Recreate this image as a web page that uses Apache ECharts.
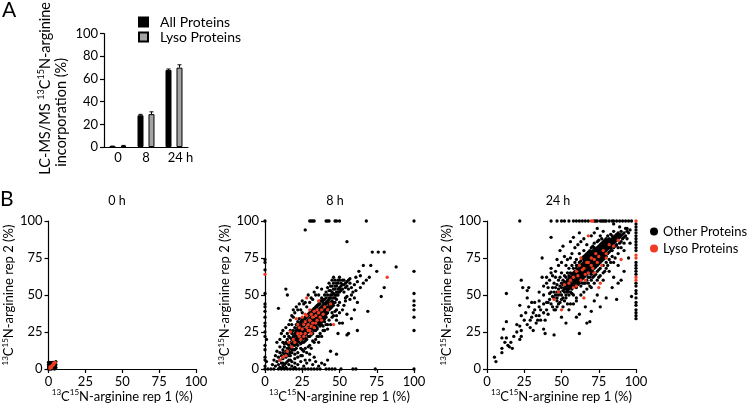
<!DOCTYPE html>
<html>
<head>
<meta charset="utf-8">
<script src="https://cdn.jsdelivr.net/npm/echarts@6/dist/echarts.min.js"></script>
<style>
  html, body { margin: 0; padding: 0; background: #fff; }
  #chart { width: 749px; height: 411px; }
</style>
</head>
<body>
<div id="chart"></div>
<script>
// panel A: bars
const barCategories = ['0', '8', '24 h']
const allProteins = [0.5, 28, 68]
const allErr = [0.3, 0.8, 0.8]
const lysoProteins = [1, 29, 70]
const lysoErr = [0.4, 2, 2.5]

// panel B: scatter, [rep1, rep2]
const panelTitles = ['0 h', '8 h', '24 h']

const other0 = [[0,0],[0.5,1],[1,0],[1,2],[1.5,3],[2,1],[2,4],[2.5,2],[3,0.5],[3,3],[3.5,4.5],[4,1],[4,3.5],[0,3],[0.5,4],[1,4.5],[2,3],[3,2],[4.5,4.5],[5,3],[5,1],[4,0],[2,0],[0,1.5],[1.5,0.5],[3,4],[4,2],[0.5,2.5],[2.5,4.5],[5,5],[3.5,1.5],[1,3.5],[0,4.5],[4.5,2.5],[2,2],[1,1],[3,1],[4,4],[0.5,0.5],[2.5,3]]
const lyso0 = [[1,0.5],[1.5,1.5],[2,2],[2.5,2.5],[3,3],[3.5,3],[4,4],[4.5,4.5],[2,1],[3,2.5],[3.5,4],[1,1.5]]

const other8 = [
  [0,100],[30,100],[31,100],[32,100],[33,100],[41,100],[42,100],[43,100],[47,100],[48,100],[50,100],[68,100],[100,100],
  [27,94],[55,86],[72,79],[76,79],[80,79],[66,70],[71,70],[88,69],[75,66],[100,66],[80,55],[78,49],[69,39],
  [100,51],[100,46],[100,43],[100,40],[100,35],[100,26],[100,0],
  [0,74],[0,72],[0,67],[0,51],[0,44],[0,42],[0,39],[0,35],[0,31],[0,29],[0,25],[0,22],[0,16],[0,13],[0,8],[0,6],[0,2],[1,5],[1,20],
  [0,0],[2,0],[4,0],[6,0],[9,0],[11,0],[13,0],[15,0],[17,0],[19,0],[21,0],[23,0],[25,0],[27,0],[29,0],[31,0],[33,0],[35,0],[37,0],[41,0],[43,0],[45,0],[47,0],[51,0],[59,0],[61,0],[74,0],
  [5,3],[6,6],[7,2],[7,9],[8,5],[8,12],[9,8],[9,3],[10,6],[10,11],[10,15],[9,41],[11,4],[11,9],[12,13],[12,7],[12,18],[13,10],[13,15],[13,3],
  [14,12],[14,18],[14,8],[14,54],[15,50],[15,14],[15,20],[15,10],[15,24],[16,16],[16,12],[16,22],[16,6],[17,18],[17,14],[17,26],[17,9],[18,20],[18,15],[18,24],[18,11],[18,30],
  [19,18],[19,22],[19,26],[19,13],[19,35],[20,20],[20,24],[20,16],[20,28],[20,10],[21,22],[21,26],[21,18],[21,30],[21,14],[22,24],[22,20],[22,28],[22,32],[22,16],[22,40],[22,8],
  [23,22],[23,26],[23,30],[23,18],[23,34],[24,24],[24,28],[24,20],[24,32],[24,14],[25,26],[25,30],[25,22],[25,34],[25,18],[25,38],[26,25],[26,29],[26,33],[26,21],[26,12],[26,44],
  [27,27],[27,31],[27,23],[27,35],[27,19],[28,28],[28,32],[28,24],[28,36],[28,20],[28,42],[29,29],[29,33],[29,25],[29,37],[29,15],[30,30],[30,34],[30,26],[30,38],[30,22],[30,45],[30,10],
  [31,31],[31,35],[31,27],[31,39],[31,23],[32,32],[32,36],[32,28],[32,40],[32,24],[32,47],[33,33],[33,37],[33,29],[33,41],[33,18],[34,34],[34,38],[34,30],[34,42],[34,26],[34,50],
  [35,35],[35,39],[35,31],[35,43],[35,27],[36,36],[36,40],[36,32],[36,44],[36,22],[37,37],[37,41],[37,33],[37,46],[37,29],[38,38],[38,42],[38,34],[38,48],[38,30],[38,54],
  [39,39],[39,43],[39,35],[39,47],[39,26],[40,40],[40,44],[40,36],[40,50],[40,32],[41,41],[41,45],[41,37],[41,52],[42,42],[42,46],[42,38],[42,55],[42,30],
  [43,44],[43,48],[43,40],[43,58],[44,45],[44,50],[44,41],[44,56],[45,46],[45,52],[45,42],[45,60],[45,35],[46,48],[46,54],[46,43],[46,62],
  [47,50],[47,56],[47,45],[47,60],[48,52],[48,58],[48,47],[48,40],[49,54],[49,60],[49,50],[49,24],[50,55],[50,52],[50,62],[50,38],[48,33],[50,31],[52,31],[56,24],[55,23],
  [51,56],[51,58],[52,54],[52,60],[53,57],[53,52],[54,58],[54,48],[55,56],[55,37],[56,54],[56,60],[57,61],[58,55],[58,34],[59,52],[60,57],[61,62],[62,26],[62,59],[63,66],[64,63],[60,40],[62,45],
  [10,1],[12,2],[14,1],[16,3],[18,2],[20,4],[22,3],[24,5],[26,2],[28,4],[30,6],[32,3],[34,5],[36,2],[38,4],[40,3],[15,5],[20,7],[25,9],[12,4],[17,6],[27,6],[33,8],[42,6],[44,12],[48,10],
  [12,11],[13,17],[14,10],[15,17],[16,14],[17,11],[17,21],[18,17],[18,13],[19,21],[19,16],[20,23],[20,19],[20,13],[21,20],[21,25],[21,17],[22,21],[22,27],[22,19],[23,25],[23,21],[23,29],
  [24,23],[24,27],[24,31],[24,17],[25,25],[25,29],[25,20],[25,33],[26,27],[26,23],[26,32],[26,18],[27,26],[27,30],[27,34],[27,21],[28,27],[28,31],[28,25],[28,35],[29,27],[29,32],[29,22],[29,36],
  [30,29],[30,33],[30,27],[30,37],[31,30],[31,34],[31,25],[31,38],[32,30],[32,34],[32,27],[32,39],[33,31],[33,36],[33,26],[33,40],[34,32],[34,37],[34,29],[34,41],[35,33],[35,38],[35,28],[35,42],
  [36,34],[36,39],[36,30],[36,43],[37,35],[37,40],[37,31],[37,44],[38,36],[38,41],[38,32],[38,46],[39,37],[39,42],[39,33],[39,45],[40,38],[40,43],[40,34],[40,47],[41,39],[41,44],[41,35],[41,48],
  [42,40],[42,45],[42,50],[43,42],[43,47],[43,53],[44,43],[44,48],[44,53],[45,44],[45,50],[45,56],[46,45],[46,51],[46,58],[47,48],[47,54],[48,50],[48,56],[49,52],[49,58],[50,54],[50,60],[51,53],[52,57],[53,60],[54,55],[55,59],[57,58],
  [8,18],[10,20],[11,24],[12,26],[13,22],[14,28],[16,30],[17,33],[18,36],[19,40],[20,38],[21,42],[23,44],[24,40],[25,46],[27,45],[29,50],[31,48],[33,52],[35,55],[36,50],
  [12,0.5],[14,4],[16,9],[18,5],[20,1],[22,11],[24,9],[25,13],[27,14],[28,11],[30,16],[31,14],[32,19],[34,20],[35,22],[36,18],[37,24],[38,22],[39,29],[40,26],[41,30],[42,27],
  [43,33],[44,30],[45,38],[46,36],[47,39],[48,36],[49,43],[50,45],[52,40],[53,43],[54,46],[55,49],[57,47],[58,50],[60,48],[61,53],[64,55],[66,58],[68,60],[70,62]
]
const lyso8 = [[12,8],[15,12],[17,25],[18,15],[20,18],[21,34],[22,24],[23,28],[24,20],[25,27],[25,35],[26,30],[27,24],[27,32],[28,28],[28,36],[29,30],[30,33],[30,26],[31,29],[31,37],[32,35],[32,31],[33,28],[33,39],[34,36],[35,33],[35,40],[36,38],[37,35],[38,40],[39,37],[40,42],[42,40],[44,44],[46,30],[30,40],[26,22],[22,30],[19,20],[28,48],[36,46],[10,6],[14,9],[16,18],[24,24],[82,62],[0,64],[29,26],[34,31],[31,24],[27,37],[38,33],[23,22]]

const other24 = [
  [22,100],[43,100],[47,100],[50,100],[52,100],[55,100],[58,100],[60,100],[62,100],[64,100],[66,100],[68,100],[72,100],[73,100],[74,100],[76,100],[77,100],[78,100],[79,100],[80,100],[82,100],[84,100],[85,100],[87,100],[89,100],[91,100],[93,100],[95,100],[97,100],
  [100,34],[100,36],[100,38],[100,40],[100,43],[100,45],[100,48],[100,51],[100,53],[100,56],[100,58],[100,64],[100,66],[100,68],[100,70],[100,72],[100,80],[100,82],[100,84],[100,86],[100,88],[100,90],[100,92],[100,94],[100,96],[100,98],
  [5,8],[6,5],[10,11],[10,14],[12,18],[10,21],[13,21],[14,16],[15,15],[17,14],[16,18],[11,27],[13,32],[13,51],[20,25],[20,30],[22,29],[22,20],[23,22],[23,26],[23,36],[22,43],[24,55],[23,60],[27,53],[28,55],[18,22],[25,33],[26,38],[27,30],[29,28],[31,26],[30,45],
  [30,35],[31,38],[32,40],[33,31],[34,33],[35,36],[35,42],[35,46],[36,40],[38,38],[39,33],[38,27],[39,24],[40,40],[41,37],[42,51],[43,44],[44,49],[45,48],[45,23],[40,45],[42,47],[44,42],[43,52],[47,46],[48,44],[46,40],[41,55],[38,50],[40,58],[37,62],[37,75],[43,65],[43,68],[43,89],[44,55],[49,45],[51,42],[53,31],[56,44],[50,47],[52,46],[54,44],[36,33],[33,36],[29,33],[28,42],[27,48],[32,45],
  [49,80],[47,74],[51,83],[56,86],[58,89],[62,92],[54,74],[57,78],[78,93],[85,98],[89,96],[94,95],[62,24],[67,31],[69,32],[70,39],[62,37],[60,35],[76,42],[80,48],[97,49],[87,47],[66,42],[72,46],[74,50],[84,55],[88,58],[92,66],[95,75],[96,85],
  [45,52],[45,58],[46,50],[46,55],[46,62],[47,52],[47,57],[47,48],[48,54],[48,60],[48,50],[49,56],[49,52],[49,62],[50,55],[50,58],[50,50],[50,65],
  [51,53],[51,57],[51,60],[51,48],[52,55],[52,59],[52,52],[52,63],[53,54],[53,58],[53,56],[53,62],[53,50],[54,55],[54,60],[54,57],[54,65],[54,52],[55,56],[55,60],[55,54],[55,63],[55,68],[55,50],
  [56,55],[56,58],[56,62],[56,65],[56,52],[57,57],[57,60],[57,64],[57,54],[57,70],[58,58],[58,61],[58,65],[58,56],[58,68],[58,50],[59,59],[59,62],[59,66],[59,56],[59,72],[60,58],[60,62],[60,65],[60,68],[60,55],[60,74],[60,48],
  [61,60],[61,64],[61,67],[61,57],[61,70],[62,62],[62,65],[62,68],[62,58],[62,72],[62,78],[63,63],[63,66],[63,70],[63,60],[63,56],[64,64],[64,68],[64,71],[64,61],[64,75],[64,58],[65,65],[65,69],[65,72],[65,62],[65,76],[65,58],[65,80],
  [66,66],[66,70],[66,73],[66,63],[66,77],[66,58],[67,67],[67,70],[67,74],[67,64],[67,78],[67,60],[68,68],[68,71],[68,75],[68,62],[68,79],[68,58],[69,69],[69,72],[69,76],[69,65],[69,80],[69,62],[70,68],[70,72],[70,77],[70,64],[70,82],[70,60],[70,55],
  [71,71],[71,74],[71,78],[71,66],[71,83],[71,62],[72,72],[72,76],[72,80],[72,68],[72,85],[72,63],[73,73],[73,76],[73,81],[73,69],[73,64],[74,74],[74,78],[74,82],[74,70],[74,86],[74,66],[75,75],[75,79],[75,83],[75,71],[75,87],[75,67],[75,62],
  [76,76],[76,80],[76,84],[76,72],[76,68],[77,77],[77,81],[77,85],[77,73],[77,88],[78,78],[78,82],[78,86],[78,74],[78,70],[78,65],[79,79],[79,83],[79,87],[79,75],[80,80],[80,84],[80,88],[80,76],[80,72],[80,68],
  [81,81],[81,85],[81,78],[81,90],[82,82],[82,86],[82,79],[82,74],[83,83],[83,87],[83,80],[83,91],[84,84],[84,88],[84,80],[84,76],[85,85],[85,89],[85,82],[85,93],[85,72],
  [86,86],[86,90],[86,83],[87,87],[87,91],[87,84],[88,88],[88,92],[88,82],[89,89],[89,85],[90,90],[90,93],[90,86],[91,91],[91,88],[92,92],[92,89],[93,90],[94,93],[95,92],[93,95],[96,94],[85,62],[82,66],[78,60],[88,70],[92,80],[90,60],
  [52,54],[53,57],[54,53],[54,59],[55,57],[55,61],[56,57],[56,60],[57,56],[57,62],[58,60],[58,63],[59,58],[59,64],[60,60],[60,63],[60,70],[61,62],[61,65],[61,59],[62,64],[62,67],[62,60],
  [63,65],[63,68],[63,62],[63,73],[64,66],[64,69],[64,63],[65,67],[65,70],[65,64],[65,74],[66,68],[66,71],[66,65],[66,75],[67,69],[67,72],[67,66],[67,76],[68,70],[68,73],[68,66],[68,77],
  [69,71],[69,74],[69,67],[69,78],[70,71],[70,74],[70,66],[70,79],[71,72],[71,76],[71,69],[71,80],[72,73],[72,78],[72,70],[72,82],[73,75],[73,79],[73,71],[74,76],[74,80],[74,72],
  [75,77],[75,81],[75,73],[76,78],[76,82],[76,74],[77,79],[77,83],[77,75],[78,80],[78,84],[78,76],[79,81],[79,85],[79,77],[80,82],[80,86],[80,78],[81,83],[81,87],[82,84],[82,88],[83,85],[83,82],[84,86],[84,90],[85,87],[86,88],[87,89],[88,90],[89,91],
  [35,52],[38,56],[40,62],[42,60],[44,63],[46,66],[48,70],[50,72],[52,76],[53,70],[56,75],[59,82],[61,84],[63,86],[65,88],[67,84],[70,90],[72,92],[74,95],[76,90],
  [50,35],[55,40],[58,44],[60,46],[63,50],[65,52],[67,54],[69,56],[72,58],[74,60],[76,63],[79,66],[81,70],[83,72],[86,75],[88,78],[90,82],[92,85],[94,88],[47,42],[53,48],[57,51],[41,45],[45,40],[38,44]
]
const lyso24 = [[45,47],[48,52],[50,40],[52,57],[55,58],[56,60],[58,62],[58,55],[60,66],[61,63],[62,70],[63,75],[64,67],[65,68],[65,48],[66,60],[67,72],[68,65],[68,72],[70,70],[70,75],[71,68],[72,74],[72,65],[73,78],[74,72],[75,76],[75,55],[76,58],[77,70],[78,80],[80,78],[80,75],[82,84],[85,83],[88,87],[90,74],[68,90],[100,60],[100,62],[100,75],[100,77],[70,100],[71,100],[100,100],[60,56],[66,64],[63,60]]

const otherSets = [other0, other8, other24]
const lysoSets = [lyso0, lyso8, lyso24]

const FONT = 'Lato'
const RED = '#ef3b22'
const sup = s => '{s|' + s + '}'
const richSup = { s: { fontSize: 8, lineHeight: 8, verticalAlign: 'top', fontFamily: FONT, color: '#000' } }
const richSupA = { s: { fontSize: 9, lineHeight: 9, verticalAlign: 'top', fontFamily: FONT, color: '#000' } }
const rep1Name = sup('13') + 'C' + sup('15') + 'N-arginine rep 1 (%)'
const rep2Name = sup('13') + 'C' + sup('15') + 'N-arginine rep 2 (%)'

const axisBase = {
  axisLine: { show: true, lineStyle: { color: '#000', width: 1.2 } },
  axisTick: { show: true, length: 4, lineStyle: { color: '#000', width: 1.2 } },
  splitLine: { show: false },
  axisLabel: { color: '#000', fontSize: 13, fontFamily: FONT, margin: 6 }
}
const nameStyle = { color: '#000', fontSize: 13, fontFamily: FONT, lineHeight: 15, rich: richSup }

const scatterGrids = [
  { left: 45, top: 221, width: 151, height: 148 },
  { left: 265, top: 221, width: 149, height: 148 },
  { left: 487, top: 221, width: 149, height: 148 }
]
const titleX = [117, 335, 558]

const grid = [{ left: 104, top: 27, width: 84, height: 120 }].concat(scatterGrids)

const xAxis = [{
  gridIndex: 0,
  type: 'category',
  data: barCategories.map(c => c.length > 2 ? { value: c, textStyle: { padding: [0, 0, 0, 13] } } : c),
  axisLine: { lineStyle: { color: '#000', width: 1.2 } },
  axisTick: { show: false },
  axisLabel: { color: '#000', fontSize: 13, fontFamily: FONT, margin: 4, interval: 0 }
}]
const yAxis = [
  Object.assign({}, axisBase, {
    gridIndex: 0, type: 'value', min: 0, max: 100, interval: 20, position: 'left',
    name: 'LC-MS/MS ' + sup('13') + 'C' + sup('15') + 'N-arginine',
    nameLocation: 'middle', nameRotate: 90, nameGap: 51,
    nameTextStyle: { color: '#000', fontSize: 14.5, fontFamily: FONT, lineHeight: 16, rich: richSupA, padding: [0, 0, 0, 4] }
  })
]

scatterGrids.forEach((g, k) => {
  xAxis.push(Object.assign({}, axisBase, {
    gridIndex: k + 1, type: 'value', min: 0, max: 100, interval: 25,
    name: rep1Name, nameLocation: 'middle', nameGap: 18, nameTextStyle: nameStyle
  }))
  yAxis.push(Object.assign({}, axisBase, {
    gridIndex: k + 1, type: 'value', min: 0, max: 100, interval: 25,
    name: rep2Name, nameLocation: 'middle', nameGap: 31, nameTextStyle: nameStyle
  }))
})

// second line of the panel A axis title, on a bare axis (index 4)
yAxis.push({
  gridIndex: 0, type: 'value', min: 0, max: 100, interval: 20, position: 'left',
  axisLine: { show: false }, axisTick: { show: false }, axisLabel: { show: false }, splitLine: { show: false },
  name: 'incorporation (%)',
  nameLocation: 'middle', nameRotate: 90, nameGap: 35,
  nameTextStyle: { color: '#000', fontSize: 14.5, fontFamily: FONT, lineHeight: 16, padding: [0, 44, 0, 0] }
})

function errorBar (offset) {
  return function (params, api) {
    const i = api.value(0)
    const v = api.value(1)
    const e = api.value(2)
    const base = api.coord([i, v])
    const top = api.coord([i, v + e])
    const x = base[0] + offset
    const st = { stroke: '#000', lineWidth: 1 }
    return {
      type: 'group',
      children: [
        { type: 'line', shape: { x1: x, y1: base[1], x2: x, y2: top[1] }, style: st },
        { type: 'line', shape: { x1: x - 2, y1: top[1], x2: x + 2, y2: top[1] }, style: st }
      ]
    }
  }
}

const series = [
  {
    name: 'All Proteins', type: 'bar', xAxisIndex: 0, yAxisIndex: 0,
    data: allProteins, barWidth: 6, barGap: '83%',
    itemStyle: { color: '#000', borderColor: '#000', borderWidth: 1 }
  },
  {
    name: 'Lyso Proteins (A)', type: 'bar', xAxisIndex: 0, yAxisIndex: 0,
    data: lysoProteins, barWidth: 6, barGap: '83%',
    itemStyle: { color: '#a3a3a3', borderColor: '#000', borderWidth: 1 }
  },
  {
    type: 'custom', xAxisIndex: 0, yAxisIndex: 0, z: 5,
    renderItem: errorBar(-5.5),
    data: allProteins.map((v, i) => [i, v, allErr[i]])
  },
  {
    type: 'custom', xAxisIndex: 0, yAxisIndex: 0, z: 5,
    renderItem: errorBar(5.5),
    data: lysoProteins.map((v, i) => [i, v, lysoErr[i]])
  }
]

otherSets.forEach((pts, k) => {
  series.push({
    name: 'Other Proteins', type: 'scatter', xAxisIndex: k + 1, yAxisIndex: k + 1,
    data: pts, symbolSize: 3.3, itemStyle: { color: '#000', opacity: 1 }, z: 2
  })
  series.push({
    name: 'Lyso Proteins', type: 'scatter', xAxisIndex: k + 1, yAxisIndex: k + 1,
    data: lysoSets[k], symbolSize: 3.3, itemStyle: { color: RED, opacity: 1 }, z: 3
  })
})

const graphic = [
  { type: 'text', x: 2, y: 0, style: { text: 'A', fontSize: 21, fontFamily: FONT, fill: '#000' } },
  { type: 'text', x: 0, y: 189, style: { text: 'B', fontSize: 21, fontFamily: FONT, fill: '#000' } }
].concat(panelTitles.map((t, k) => ({
  type: 'text', x: titleX[k], y: 201,
  style: { text: t, fontSize: 12.5, fontFamily: FONT, fill: '#000', align: 'center', verticalAlign: 'middle' }
})))

const chart = echarts.init(document.getElementById('chart'))
chart.setOption({
  animation: false,
  backgroundColor: '#fff',
  grid,
  xAxis,
  yAxis,
  legend: [
    {
      data: ['All Proteins', 'Lyso Proteins (A)'],
      formatter: n => n.replace(' (A)', ''),
      orient: 'vertical', left: 133, top: 10, itemGap: 1,
      itemWidth: 9, itemHeight: 9, icon: 'rect',
      textStyle: { color: '#000', fontSize: 14, fontFamily: FONT, padding: [0, 0, 0, 7] }
    },
    {
      data: ['Other Proteins', 'Lyso Proteins'],
      orient: 'vertical', left: 645, top: 220, itemGap: 4,
      itemWidth: 8, itemHeight: 8, icon: 'circle',
      textStyle: { color: '#000', fontSize: 13, fontFamily: FONT }
    }
  ],
  graphic,
  series
})
</script>
</body>
</html>
